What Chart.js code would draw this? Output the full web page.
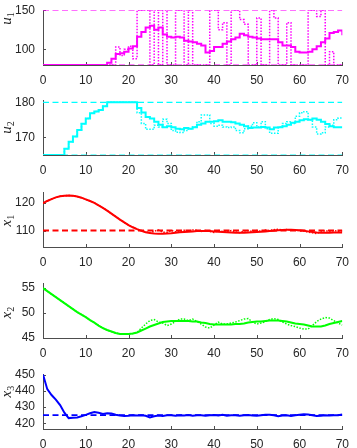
<!DOCTYPE html>
<html>
<head>
<meta charset="utf-8">
<script src="https://cdn.jsdelivr.net/npm/chart.js@4.4.1/dist/chart.umd.min.js"></script>
<style>
    body { margin: 0; background: #fff; }
    #wrap { position: relative; width: 357px; height: 448px; overflow: hidden; }
    canvas { position: absolute; left: 0; }
</style>
</head>
<body>
<div id="wrap">
    <canvas id="c1" width="357" height="96" style="top:-5px"></canvas>
    <canvas id="c2" width="357" height="96" style="top:85px"></canvas>
    <canvas id="c3" width="357" height="96" style="top:177px"></canvas>
    <canvas id="c4" width="357" height="96" style="top:268px"></canvas>
    <canvas id="c5" width="357" height="96" style="top:359px"></canvas>
</div>
<script>
const time = [0, 1, 2, 3, 4, 5, 6, 7, 8, 9, 10, 11, 12, 13, 14, 15, 16, 17, 18, 19,
    20, 21, 22, 23, 24, 25, 26, 27, 28, 29, 30, 31, 32, 33, 34, 35, 36, 37, 38, 39,
    40, 41, 42, 43, 44, 45, 46, 47, 48, 49, 50, 51, 52, 53, 54, 55, 56, 57, 58, 59,
    60, 61, 62, 63, 64, 65, 66, 67, 68, 69, 70];
const xTicks = [0, 10, 20, 30, 40, 50, 60, 70];

// u1
const u1Solid = [80, 80, 80, 80, 80, 80, 80, 80, 80, 80,
    80, 80, 80, 80, 80, 83, 88, 94, 95, 97,
    101, 104, 116, 122, 128, 130, 125, 128, 119, 116,
    115, 116, 115, 111, 110, 109, 107, 105, 96, 98,
    103, 103, 107, 110, 113, 115, 120, 118, 116, 115,
    114, 113, 113, 113, 113, 109, 105, 105, 103, 97,
    96, 96, 97, 100, 104, 109, 114, 121, 122, 124,
    118];
const u1Dotted = [80, 80, 80, 80, 80, 80, 80, 80, 80, 80,
    80, 80, 80, 80, 80, 80, 80, 103, 92, 100,
    104, 88, 150, 150, 150, 80, 150, 80, 150, 80,
    80, 150, 150, 80, 150, 80, 80, 80, 80, 150,
    150, 125, 134, 80, 150, 150, 138, 132, 80, 80,
    140, 80, 80, 150, 140, 80, 80, 134, 80, 80,
    80, 80, 150, 150, 142, 150, 80, 97, 80, 80,
    80];
const u1Bounds = [80, 150];
const u1Ticks = [100, 150];

// u2
const u2Solid = [165, 165, 165, 165, 165, 166.8, 168.8, 170.3, 172.1, 173.9,
    175.4, 176.9, 177.4, 177.8, 178.9, 180, 180, 180, 180, 180,
    180, 180, 178.4, 177.1, 175.8, 175.4, 174.5, 173.6, 172.9, 173.2,
    172.9, 172.5, 172.3, 172.7, 172.5, 172.9, 173.6, 174, 174.5, 174.5,
    174.6, 174.9, 174.5, 174.5, 174.3, 174, 173.6, 173.2, 172.7, 172.8,
    172.8, 173, 172.8, 172.3, 172.8, 172.9, 173.2, 173.6, 174.2, 174.5,
    174.9, 175.2, 175, 175.4, 175, 174.5, 173.8, 173.2, 172.9, 172.9,
    172.9];
const u2Dotted = [165, 165, 165, 165, 165, 166.8, 168.8, 170.3, 172.1, 173.9,
    175.4, 176.9, 177.4, 177.8, 178.9, 180, 180, 180, 180, 180,
    180, 180, 177, 174, 172.3, 172.3, 173.5, 173, 175.2, 174,
    172, 171.5, 171.4, 172, 172.5, 173, 174.5, 176.4, 176.4, 174,
    173.2, 173.5, 173, 172.8, 173, 172, 171.3, 172.5, 173.2, 174.2,
    173, 174.5, 172.5, 171.2, 171.2, 173, 174, 174.5, 174, 176,
    177, 177.3, 175, 173, 171, 171.3, 173, 173.5, 175, 175.5,
    175.5];
const u2Bounds = [165, 180];
const u2Ticks = [170, 180];

// x1
const x1Solid = [120, 120.8, 121.5, 122.1, 122.5, 122.7, 122.8, 122.7, 122.4, 122,
    121.4, 120.8, 120.1, 119.2, 118.3, 117.3, 116.2, 115.1, 114, 113,
    112, 111.2, 110.5, 109.9, 109.4, 109.1, 108.9, 108.8, 108.8, 108.9,
    109, 109.2, 109.4, 109.5, 109.6, 109.7, 109.8, 109.8, 109.8, 109.8,
    109.7, 109.6, 109.5, 109.4, 109.3, 109.2, 109.2, 109.2, 109.3, 109.4,
    109.5, 109.6, 109.7, 109.8, 109.9, 110.1, 110.2, 110.3, 110.3, 110.2,
    110.1, 109.9, 109.7, 109.5, 109.3, 109.2, 109.2, 109.2, 109.3, 109.3,
    109.3];
const x1Dotted = [120, 120.8, 121.5, 122.1, 122.5, 122.7, 122.8, 122.7, 122.4, 122,
    121.4, 120.8, 120.1, 119.2, 118.3, 117.3, 116.2, 115.1, 114, 113,
    112, 111.2, 110.5, 110, 109.5, 109.2, 109.8, 110.2, 109.4, 109.3,
    110, 109.6, 109.5, 110.1, 109.8, 110.2, 110.1, 109.7, 110, 109.7,
    109.3, 110, 109.7, 109.4, 110, 109.5, 109.2, 109.8, 110, 109.6,
    110, 109.7, 110.2, 110, 110.3, 110.5, 110.2, 110.4, 110.1, 110.3,
    109.8, 109.9, 109.4, 109.2, 108.9, 109.5, 110, 109.6, 110, 109.7,
    109.9];
const x1Setpoint = 110;
const x1Ticks = [110, 120];

// x2
const x2Solid = [55, 54.4, 53.8, 53.2, 52.6, 52, 51.4, 50.8, 50.2, 49.7,
    49.2, 48.6, 48.1, 47.5, 47, 46.6, 46.3, 46, 45.8, 45.8,
    45.8, 45.9, 46.1, 46.5, 46.9, 47.3, 47.6, 47.9, 48.2, 48.3,
    48.4, 48.4, 48.4, 48.4, 48.4, 48.3, 48.3, 48.1, 48, 47.8,
    47.7, 47.7, 47.7, 47.7, 47.7, 47.8, 47.8, 47.9, 48.1, 48.2,
    48.3, 48.3, 48.4, 48.5, 48.5, 48.5, 48.4, 48.3, 48.1, 47.9,
    47.8, 47.7, 47.5, 47.3, 47.3, 47.3, 47.5, 47.8, 48, 48.2,
    48.4];
const x2Dotted = [55, 54.4, 53.8, 53.2, 52.6, 52, 51.4, 50.8, 50.2, 49.7,
    49.2, 48.6, 48.1, 47.5, 47, 46.6, 46.3, 46, 45.8, 45.8,
    45.8, 45.9, 46.1, 47, 47.8, 48.5, 48.7, 48.2, 48, 47.5,
    47.8, 48.3, 48.8, 48.8, 48.5, 48.8, 48.3, 47.8, 47.2, 47,
    47.6, 48.2, 47.8, 47.8, 48, 48.2, 48.5, 48.8, 48.9, 48.2,
    47.8, 48, 48.3, 48.7, 48.9, 48.7, 48.2, 47.8, 47.5, 47.3,
    47, 46.8, 46.8, 47.5, 48.3, 48.8, 49.1, 49, 48.5, 48,
    47.6];
const x2Ticks = [45, 50, 55];

// x3
const x3Solid = [450, 441, 437.4, 434.6, 431.2, 426.5, 423.2, 423.4, 423.6, 424.3,
    425.2, 426.2, 427, 426.5, 425.8, 426.2, 426, 425.3, 424.8, 424.5,
    424.7, 425, 424.8, 425, 424.6, 423.6, 424.3, 424.8, 424.5, 424.9,
    425, 424.6, 425, 424.8, 425.1, 424.7, 424.9, 425, 424.6, 424.9,
    425.1, 424.8, 425.3, 424.7, 424.9, 425, 424.6, 424.9, 425.1, 424.8,
    424.6, 425, 425.2, 425.3, 424.9, 424.3, 424.8, 425, 424.5, 424.9,
    425.2, 425.5, 425.4, 425, 424.5, 424.7, 424.9, 424.8, 425, 424.9,
    425.4];
const x3Setpoint = 425;
const x3Ticks = [420, 430, 440, 450];

const axisColor = '#4d4d4d';
const textColor = '#262626';

function toPoints(values) {
    return values.map((v, i) => ({ x: time[i], y: v }));
}

function flatLine(v) {
    return [{ x: time[0], y: v }, { x: time[time.length - 1], y: v }];
}

function solidSet(values, color, stepped) {
    return { data: toPoints(values), borderColor: color, borderWidth: 2, pointRadius: 0, stepped: stepped, fill: false };
}

function dottedSet(values, color, stepped) {
    return { data: toPoints(values), borderColor: color, borderWidth: 1.5, borderDash: [1.5, 1.5], pointRadius: 0, stepped: stepped, fill: false };
}

function dashedSet(v, color, width) {
    return { data: flatLine(v), borderColor: color, borderWidth: width, borderDash: [6, 3.5], pointRadius: 0, fill: false };
}

// small inward ticks like the original
const innerTicks = {
    id: 'innerTicks',
    beforeDatasetsDraw(chart) {
        const ctx = chart.ctx;
        const area = chart.chartArea;
        const xs = chart.scales.x;
        const ys = chart.scales.y;
        ctx.save();
        ctx.strokeStyle = axisColor;
        ctx.lineWidth = 1;
        ctx.beginPath();
        xs.ticks.forEach(t => {
            const px = Math.round(xs.getPixelForValue(t.value)) + 0.5;
            ctx.moveTo(px, area.bottom);
            ctx.lineTo(px, area.bottom - 3);
        });
        ys.ticks.forEach(t => {
            const py = Math.round(ys.getPixelForValue(t.value)) + 0.5;
            ctx.moveTo(area.left, py);
            ctx.lineTo(area.left + 3, py);
        });
        ctx.stroke();
        ctx.restore();
    }
};

// rotated axis label with subscript
const yLabel = {
    id: 'yLabel',
    afterDraw(chart, args, opts) {
        const ctx = chart.ctx;
        const area = chart.chartArea;
        const cy = (area.top + area.bottom) / 2 + opts.shift;
        ctx.save();
        ctx.translate(7, cy);
        ctx.rotate(-Math.PI / 2);
        ctx.fillStyle = textColor;
        ctx.textBaseline = 'middle';
        ctx.font = 'italic 15px "Liberation Serif"';
        const wMain = ctx.measureText(opts.main).width;
        ctx.font = '10px "Liberation Serif"';
        const wSub = ctx.measureText(opts.sub).width;
        const x0 = -(wMain + wSub) / 2;
        ctx.font = 'italic 15px "Liberation Serif"';
        ctx.fillText(opts.main, x0, 0);
        ctx.font = '10px "Liberation Serif"';
        ctx.fillText(opts.sub, x0 + wMain, 4);
        ctx.restore();
    }
};

function makePanel(id, datasets, yMin, yMax, yTicks, main, sub, shift) {
    new Chart(document.getElementById(id), {
        type: 'line',
        data: { datasets: datasets },
        options: {
            responsive: false,
            animation: false,
            layout: { padding: { top: 10, right: 8, bottom: 0, left: 0 } },
            plugins: {
                legend: { display: false },
                tooltip: { enabled: false },
                yLabel: { main: main, sub: sub, shift: shift }
            },
            scales: {
                x: {
                    type: 'linear',
                    min: 0,
                    max: 70,
                    grid: { display: false, drawTicks: false },
                    border: { display: true, color: axisColor, width: 1 },
                    afterBuildTicks: s => { s.ticks = xTicks.map(v => ({ value: v })); },
                    afterFit: s => { s.height = 26; },
                    ticks: { color: textColor, padding: 8, font: { family: 'Liberation Sans', size: 12 }, maxRotation: 0 }
                },
                y: {
                    min: yMin,
                    max: yMax,
                    grid: { display: false, drawTicks: false },
                    border: { display: true, color: axisColor, width: 1 },
                    afterBuildTicks: s => { s.ticks = yTicks.map(v => ({ value: v })); },
                    afterFit: s => { s.width = 43; },
                    ticks: { color: textColor, padding: 8, font: { family: 'Liberation Sans', size: 12 } }
                }
            }
        },
        plugins: [innerTicks, yLabel]
    });
}

makePanel('c1', [
    solidSet(u1Solid, '#ff00ff', true),
    dottedSet(u1Dotted, '#ff00ff', true),
    dashedSet(u1Bounds[0], '#ff00ff', 1.2),
    dashedSet(u1Bounds[1], '#ff00ff', 1.2)
], 80, 150, u1Ticks, 'u', '1', -19);

makePanel('c2', [
    solidSet(u2Solid, '#00ffff', true),
    dottedSet(u2Dotted, '#00ffff', true),
    dashedSet(u2Bounds[0], '#00ffff', 1.2),
    dashedSet(u2Bounds[1], '#00ffff', 1.2)
], 165, 180.6, u2Ticks, 'u', '2', 0);

makePanel('c3', [
    solidSet(x1Solid, '#ff0000', false),
    dottedSet(x1Dotted, '#ff0000', false),
    dashedSet(x1Setpoint, '#ff0000', 2)
], 104, 124, x1Ticks, 'x', '1', 1);

makePanel('c4', [
    solidSet(x2Solid, '#00ff00', false),
    dottedSet(x2Dotted, '#00ff00', false)
], 45, 56, x2Ticks, 'x', '2', 2);

makePanel('c5', [
    solidSet(x3Solid, '#0000ff', false),
    dashedSet(x3Setpoint, '#0000ff', 1.8)
], 416.5, 450.2, x3Ticks, 'x', '3', -10);
</script>
</body>
</html>
